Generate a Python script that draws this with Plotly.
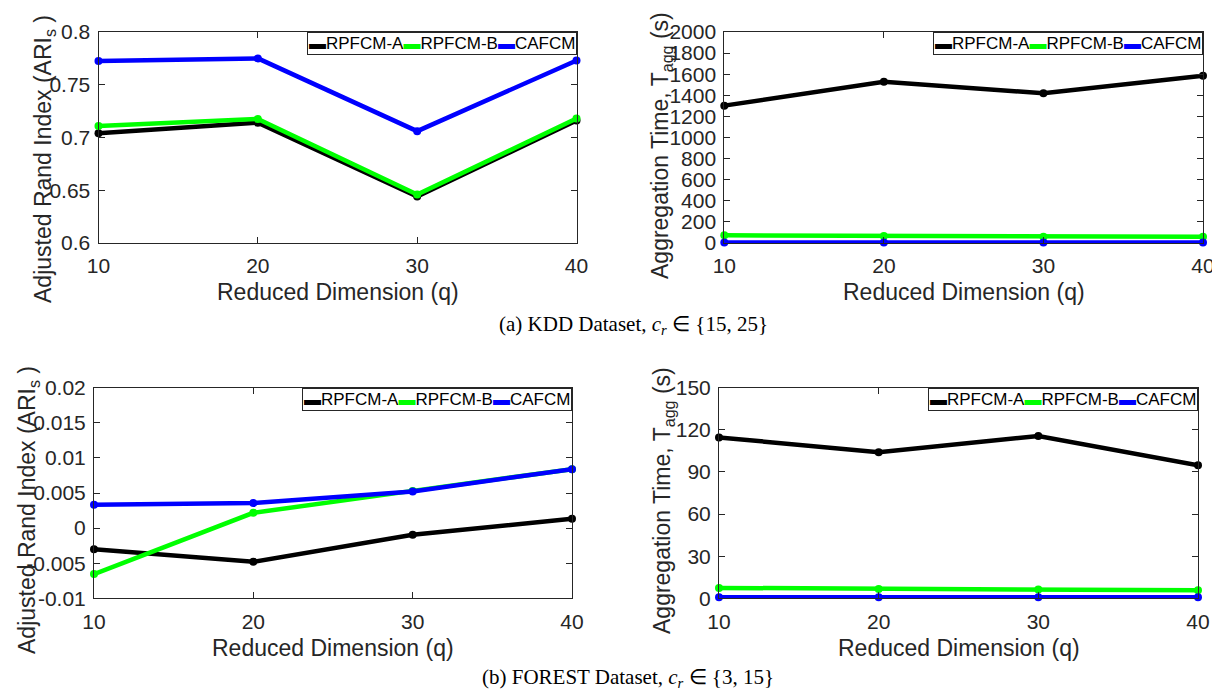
import plotly.graph_objects as go

# ---------------- data ----------------
q = [10, 20, 30, 40]
series_names = ["RPFCM-A", "RPFCM-B", "CAFCM"]
series_colors = ["#000000", "#00FF00", "#0000FF"]

kdd_ari_a = [0.704, 0.714, 0.644, 0.716]
kdd_ari_b = [0.711, 0.7175, 0.646, 0.718]
kdd_ari_c = [0.7725, 0.775, 0.706, 0.773]

kdd_t_a = [1302, 1529, 1419, 1586]
kdd_t_b = [73, 66, 60, 60]
kdd_t_c = [4, 4, 4, 4]

forest_ari_a = [-0.0030, -0.0048, -0.00095, 0.00133]
forest_ari_b = [-0.00655, 0.00218, 0.0053, 0.0084]
forest_ari_c = [0.00332, 0.00356, 0.00522, 0.0084]

forest_t_a = [114.6, 104.0, 115.6, 94.7]
forest_t_b = [7.4, 6.6, 6.2, 5.7]
forest_t_c = [0.8, 0.8, 0.8, 0.8]

x_ticks = [10, 20, 30, 40]
kdd_ari_ticks = [0.6, 0.65, 0.7, 0.75, 0.8]
kdd_ari_ticktext = ["0.6", "0.65", "0.7", "0.75", "0.8"]
kdd_t_ticks = [0, 200, 400, 600, 800, 1000, 1200, 1400, 1600, 1800, 2000]
forest_ari_ticks = [-0.01, -0.005, 0, 0.005, 0.01, 0.015, 0.02]
forest_ari_ticktext = ["-0.01", "-0.005", "0", "0.005", "0.01", "0.015", "0.02"]
forest_t_ticks = [0, 30, 60, 90, 120, 150]

caption_a = "(a) KDD Dataset, <i>c</i><sub><i>r</i></sub> \u2208 {15, 25}"
caption_b = "(b) FOREST Dataset, <i>c</i><sub><i>r</i></sub> \u2208 {3, 15}"
xtitle = "Reduced Dimension (q)"
ytitle_ari = "Adjusted Rand Index (ARI<sub>s</sub> )"
ytitle_t = "Aggregation Time, T<sub>agg</sub> (s)"

# ---------------- layout helpers ----------------
W, H = 1212, 692
AX = "#262626"
SANS = "Liberation Sans, Arial, sans-serif"
SERIF = "Liberation Serif, Times New Roman, serif"


def px(x):
    return x / W


def py(y):
    return 1 - y / H


# panel boxes in pixels: (left, right, top, bottom)
panels = [
    (98.5, 576.5, 32, 243),
    (724.3, 1203, 32, 243),
    (94, 572, 387.7, 598.3),
    (719, 1198, 387.7, 598.3),
]

data_sets = [
    (kdd_ari_a, kdd_ari_b, kdd_ari_c),
    (kdd_t_a, kdd_t_b, kdd_t_c),
    (forest_ari_a, forest_ari_b, forest_ari_c),
    (forest_t_a, forest_t_b, forest_t_c),
]

y_axes_cfg = [
    dict(range=[0.6, 0.8], tickvals=kdd_ari_ticks, ticktext=kdd_ari_ticktext),
    dict(range=[0, 2000], tickvals=kdd_t_ticks, ticktext=[str(v) for v in kdd_t_ticks]),
    dict(range=[-0.01, 0.02], tickvals=forest_ari_ticks, ticktext=forest_ari_ticktext),
    dict(range=[0, 150], tickvals=forest_t_ticks, ticktext=[str(v) for v in forest_t_ticks]),
]

fig = go.Figure()

for i, (vals, box) in enumerate(zip(data_sets, panels)):
    n = "" if i == 0 else str(i + 1)
    for name, color, ys in zip(series_names, series_colors, vals):
        fig.add_trace(go.Scatter(
            x=q, y=ys, mode="lines+markers", name=name,
            line=dict(color=color, width=4.5),
            marker=dict(color=color, size=8, symbol="circle"),
            xaxis="x" + n, yaxis="y" + n, showlegend=False, cliponaxis=False,
        ))
    l, r, t, b = box
    common = dict(showline=True, linecolor=AX, linewidth=1, mirror="ticks",
                  ticks="inside", ticklen=6, tickcolor=AX, tickwidth=1,
                  showgrid=False, zeroline=False, automargin=False,
                  ticklabeloverflow="allow",
                  tickfont=dict(family=SANS, size=21, color=AX))
    fig.layout["xaxis" + n] = dict(domain=[px(l), px(r)], anchor="y" + n,
                                   range=[10, 40], tickvals=x_ticks,
                                   ticklabelstandoff=4, **common)
    fig.layout["yaxis" + n] = dict(domain=[py(b), py(t)], anchor="x" + n,
                                   ticklabelstandoff=3, **y_axes_cfg[i], **common)

annotations = []

# legends (boxed, horizontal, top-right of each panel)
legend_text = "".join(
    f"<span style='color:{c}'>\u25AC</span>{nm}"
    for nm, c in zip(series_names, series_colors)
)
for (l, r, t, b) in panels:
    annotations.append(dict(
        xref="paper", yref="paper", x=px(r), y=py(t), xanchor="right", yanchor="top",
        text=legend_text, showarrow=False, font=dict(family=SANS, size=17, color="#000000"),
        bgcolor="#FFFFFF", bordercolor=AX, borderwidth=1, borderpad=1,
    ))

# x-axis titles
for (l, r, t, b), yc in zip(panels, [291.7, 291.7, 647.7, 647.7]):
    annotations.append(dict(
        xref="paper", yref="paper", x=px((l + r) / 2), y=py(yc),
        xanchor="center", yanchor="middle", text=xtitle, showarrow=False,
        font=dict(family=SANS, size=23, color=AX),
    ))

# y-axis titles (rotated)
for (xc, yc, txt) in [(44, 159, ytitle_ari), (661, 146, ytitle_t),
                      (28, 510, ytitle_ari), (663, 501, ytitle_t)]:
    annotations.append(dict(
        xref="paper", yref="paper", x=px(xc), y=py(yc), textangle=-90,
        xanchor="center", yanchor="middle", text=txt, showarrow=False,
        font=dict(family=SANS, size=23, color=AX),
    ))

# captions
annotations.append(dict(xref="paper", yref="paper", x=px(633), y=py(325),
                        xanchor="center", yanchor="middle", text=caption_a,
                        showarrow=False, font=dict(family=SERIF, size=21, color="#000000")))
annotations.append(dict(xref="paper", yref="paper", x=px(628), y=py(678),
                        xanchor="center", yanchor="middle", text=caption_b,
                        showarrow=False, font=dict(family=SERIF, size=21, color="#000000")))

fig.update_layout(
    template="none",
    width=W, height=H, autosize=False,
    margin=dict(l=0, r=0, t=0, b=0, pad=0),
    paper_bgcolor="#FFFFFF", plot_bgcolor="#FFFFFF",
    annotations=annotations, showlegend=False,
)

fig.write_html("out.html",
               config={"displayModeBar": False},
               post_script="document.body.style.margin='0px';"
                           "document.body.style.overflow='hidden';")
